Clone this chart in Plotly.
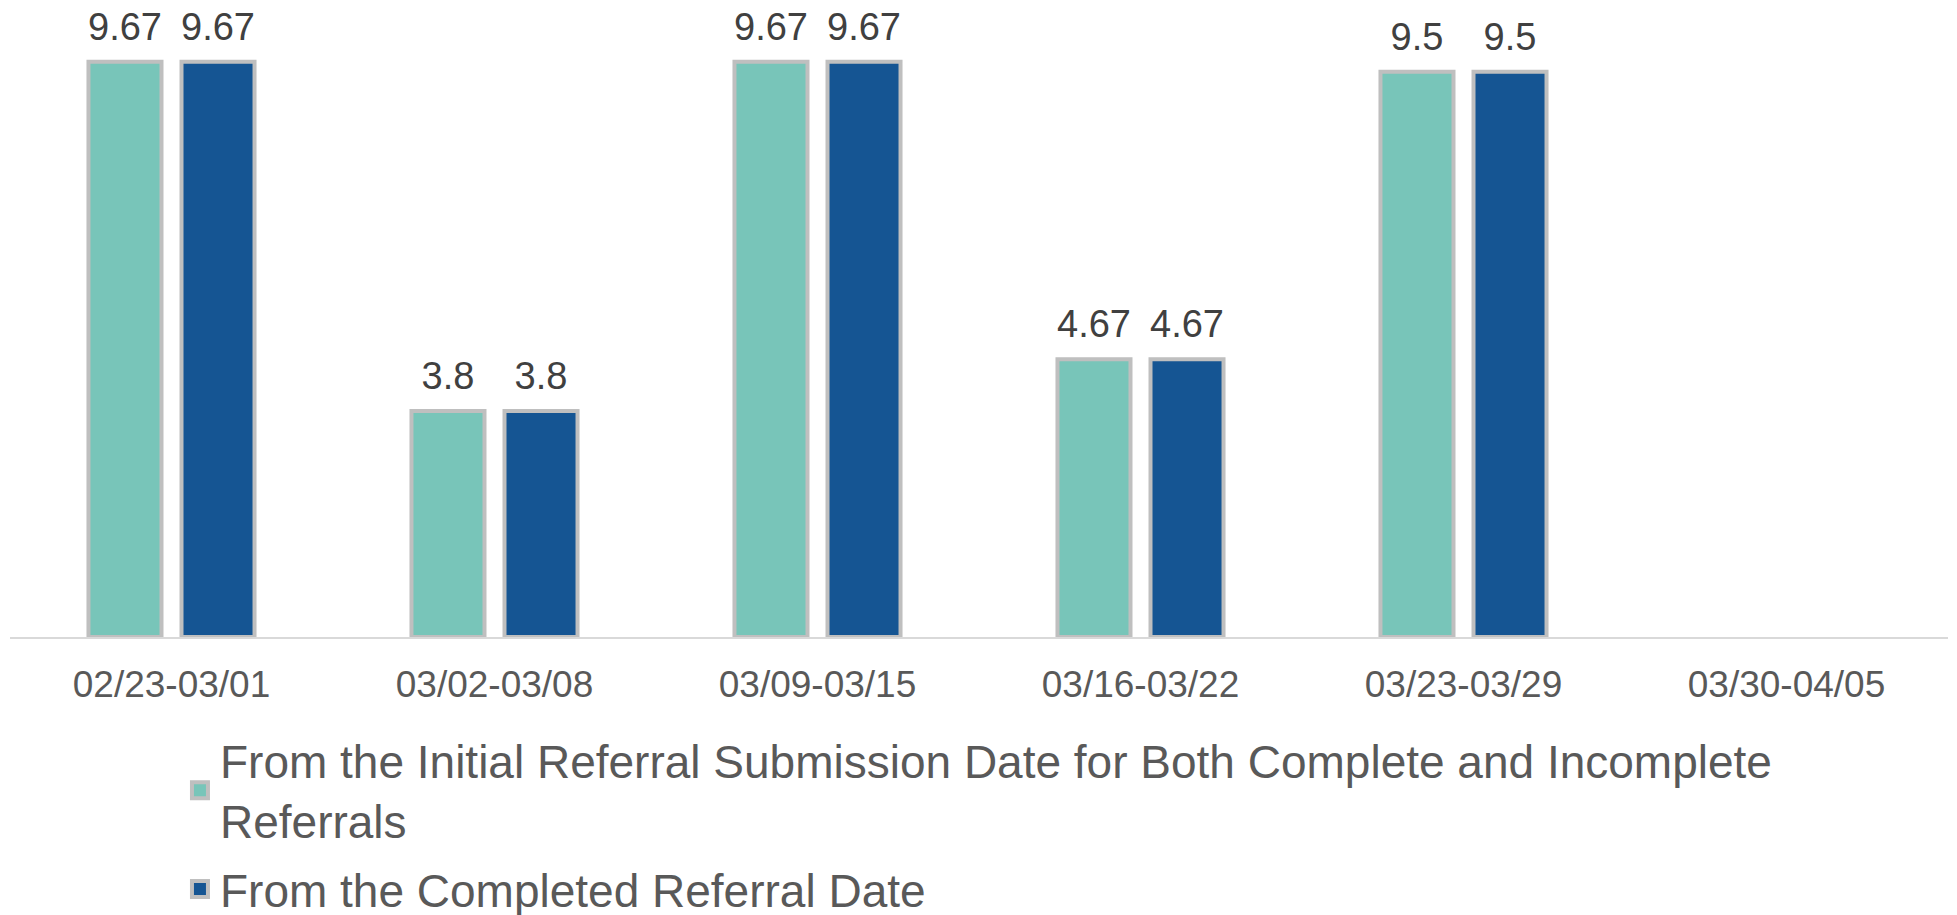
import plotly.graph_objects as go

weeks = ["02/23-03/01", "03/02-03/08", "03/09-03/15", "03/16-03/22", "03/23-03/29", "03/30-04/05"]
from_initial = [9.67, 3.8, 9.67, 4.67, 9.5, None]
from_completed = [9.67, 3.8, 9.67, 4.67, 9.5, None]

series_names = [
    "From the Initial Referral Submission Date for Both Complete and Incomplete<br>Referrals",
    "From the Completed Referral Date",
]
colors = ["#78C5B9", "#155593"]

FONT = "Liberation Sans, Arial, sans-serif"
BORDER = "#BFBFBF"
GAP = 0.424

fig = go.Figure()
for name, vals, color in zip(series_names, [from_initial, from_completed], colors):
    fig.add_trace(go.Bar(
        x=weeks,
        y=vals,
        name=name,
        showlegend=False,
        marker=dict(color=color, line=dict(color=BORDER, width=4)),
        hoverinfo="skip",
    ))

# value labels, grouped like the bars, lifted above the bar tops
for i, vals in enumerate([from_initial, from_completed]):
    fig.add_trace(go.Scatter(
        x=weeks,
        y=vals,
        mode="markers+text",
        marker=dict(size=18, opacity=0),
        text=[("" if v is None else f"{v:g}") for v in vals],
        textposition="top center",
        textfont=dict(family=FONT, size=38, color="#404040"),
        alignmentgroup="labels",
        offsetgroup=f"s{i}",
        showlegend=False,
        cliponaxis=False,
        hoverinfo="skip",
    ))

# legend entries with bigger square symbols
for i, (name, color) in enumerate(zip(series_names, colors)):
    fig.add_trace(go.Scatter(
        x=[None],
        y=[None],
        mode="markers",
        name=name,
        legendgroup=f"g{i}",
        alignmentgroup="legend",
        marker=dict(symbol="square", size=22, color=color, line=dict(color=BORDER, width=4)),
    ))

fig.update_layout(
    width=1949,
    height=907,
    margin=dict(l=2, r=9, t=34, b=278),
    paper_bgcolor="white",
    plot_bgcolor="white",
    barmode="group",
    bargap=GAP,
    bargroupgap=0.215,
    scattermode="group",
    scattergap=GAP,
    font=dict(family=FONT, color="#595959"),
    showlegend=True,
    legend=dict(
        orientation="v",
        x=0.0877,
        xanchor="left",
        yref="container",
        y=0.2106,
        yanchor="top",
        font=dict(family=FONT, size=46, color="#595959"),
        bgcolor="rgba(0,0,0,0)",
        tracegroupgap=6,
        itemsizing="trace",
    ),
    xaxis=dict(
        showline=True,
        linecolor="#D9D9D9",
        linewidth=2,
        showgrid=False,
        ticks="outside",
        ticklen=14,
        tickcolor="rgba(0,0,0,0)",
        tickfont=dict(family=FONT, size=37, color="#595959"),
    ),
    yaxis=dict(
        range=[0, 10],
        visible=False,
        showgrid=False,
    ),
)

fig.write_html("out.html")
